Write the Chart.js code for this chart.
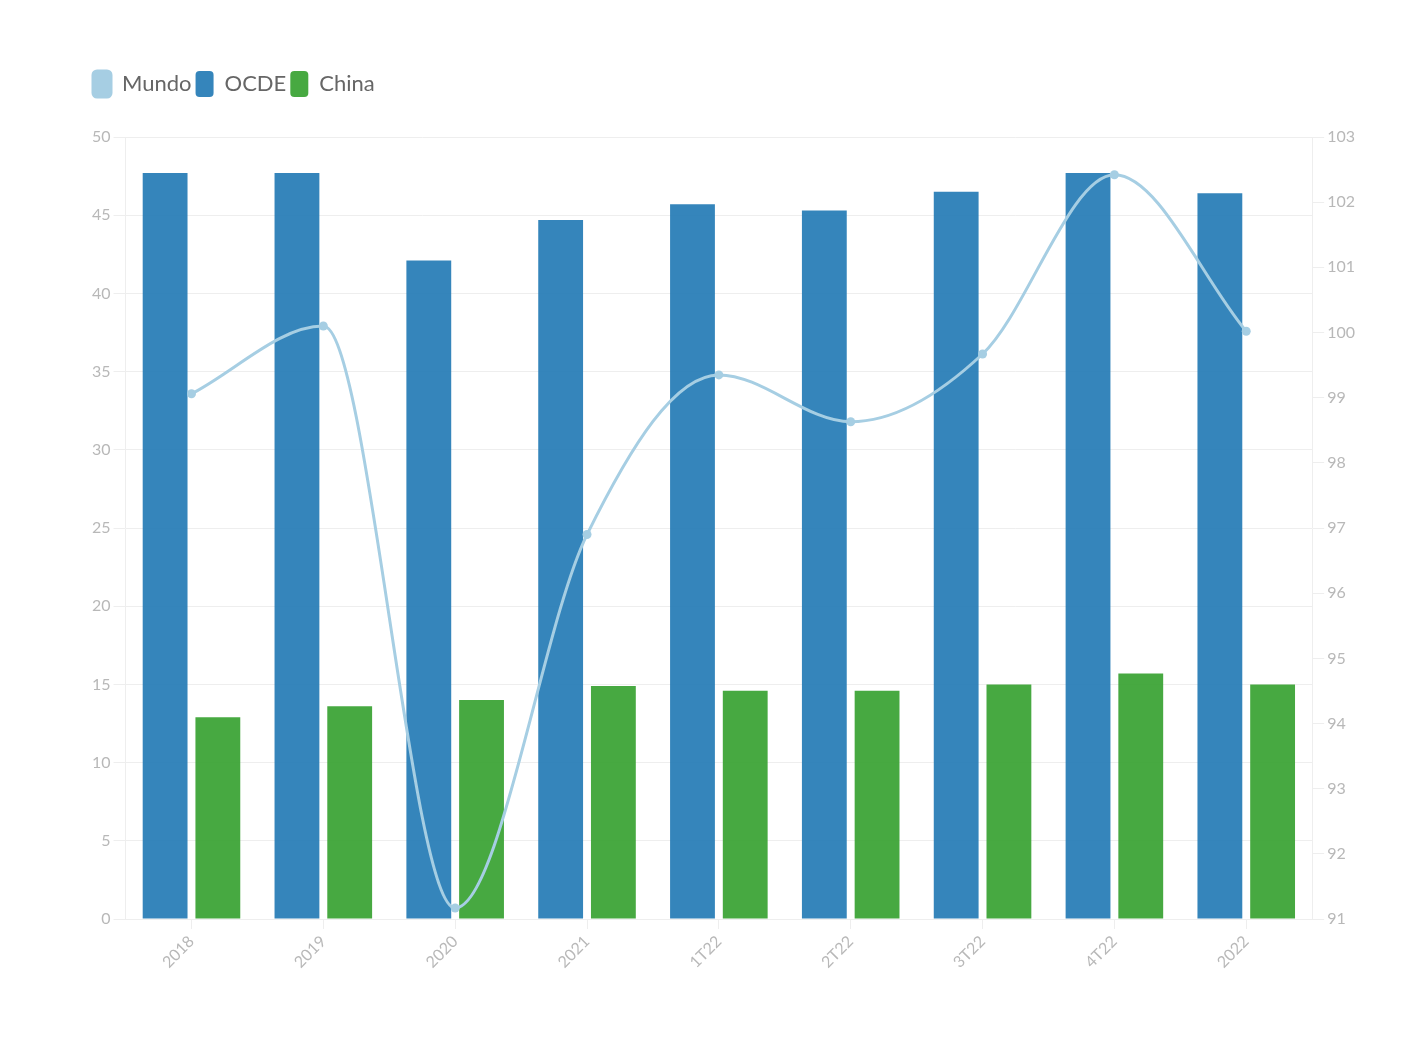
<!DOCTYPE html>
<html>
<head>
<meta charset="utf-8">
<script src="https://cdn.jsdelivr.net/npm/chart.js@4.4.0/dist/chart.umd.min.js"></script>
<style>
  html, body { margin: 0; padding: 0; background: #fff; }
  .chart__wrap { position: relative; width: 1420px; height: 1038px; }
</style>
</head>
<body>
<div class="chart__wrap">
  <canvas id="myChart"></canvas>
</div>
<script>
const labels = ['2018', '2019', '2020', '2021', '1T22', '2T22', '3T22', '4T22', '2022']
const mundo = [99.06, 100.1, 91.17, 96.9, 99.35, 98.63, 99.67, 102.42, 100.02]
const ocde = [47.7, 47.7, 42.1, 44.7, 45.7, 45.3, 46.5, 47.7, 46.4]
const china = [12.9, 13.6, 14.0, 14.9, 14.6, 14.6, 15.0, 15.7, 15.0]

const tickFont = { family: 'Lato', size: 16 }
const tickColor = '#b8b8b8'
const gridColor = '#eeeeee'

// extra space under the legend
const legendMargin = {
  id: 'legendMargin',
  beforeInit(chart) {
    const fit = chart.legend.fit
    chart.legend.fit = function () {
      fit.bind(chart.legend)()
      this.height += 30
    }
  }
}

const initChart = () => {
  const ctx = document.getElementById('myChart').getContext('2d')

  const data = {
    labels,
    datasets: [
      {
        type: 'line',
        label: 'Mundo',
        data: mundo,
        yAxisID: 'y1',
        order: 0,
        borderColor: '#a6cee3',
        backgroundColor: '#a6cee3',
        borderWidth: 3,
        pointRadius: 4.5,
        pointBorderWidth: 0,
        cubicInterpolationMode: 'monotone',
        fill: false
      },
      {
        type: 'bar',
        label: 'OCDE',
        data: ocde,
        yAxisID: 'y',
        order: 1,
        backgroundColor: 'rgba(31, 120, 180, 0.9)',
        borderColor: '#1f78b4',
        barPercentage: 0.85,
        categoryPercentage: 0.8
      },
      {
        type: 'bar',
        label: 'China',
        data: china,
        yAxisID: 'y',
        order: 2,
        backgroundColor: 'rgba(51, 160, 44, 0.9)',
        borderColor: '#33a02c',
        barPercentage: 0.85,
        categoryPercentage: 0.8
      }
    ]
  }

  const config = {
    type: 'bar',
    data,
    plugins: [legendMargin],
    options: {
      responsive: true,
      maintainAspectRatio: false,
      animation: false,
      layout: {
        padding: { top: 67, left: 89, right: 62, bottom: 63 }
      },
      plugins: {
        tooltip: { enabled: false },
        legend: {
          position: 'top',
          align: 'start',
          labels: {
            boxWidth: 18,
            boxHeight: 26,
            useBorderRadius: true,
            borderRadius: 4,
            padding: 4,
            color: '#666',
            font: { family: 'Lato', size: 22 }
          }
        }
      },
      scales: {
        x: {
          offset: true,
          grid: {
            offset: false,
            drawOnChartArea: false,
            color: gridColor,
            tickLength: 10
          },
          border: { color: gridColor },
          ticks: {
            color: tickColor,
            font: tickFont,
            maxRotation: 45,
            minRotation: 45
          }
        },
        y: {
          position: 'left',
          min: 0,
          max: 50,
          ticks: {
            stepSize: 5,
            color: tickColor,
            font: tickFont
          },
          grid: { color: gridColor, tickLength: 12 },
          border: { color: gridColor }
        },
        y1: {
          position: 'right',
          min: 91,
          max: 103,
          ticks: {
            stepSize: 1,
            color: tickColor,
            font: tickFont
          },
          grid: { drawOnChartArea: false, color: gridColor, tickLength: 12 },
          border: { color: gridColor }
        }
      }
    }
  }

  const myChart = new Chart(ctx, config)
}

initChart()
</script>
</body>
</html>
